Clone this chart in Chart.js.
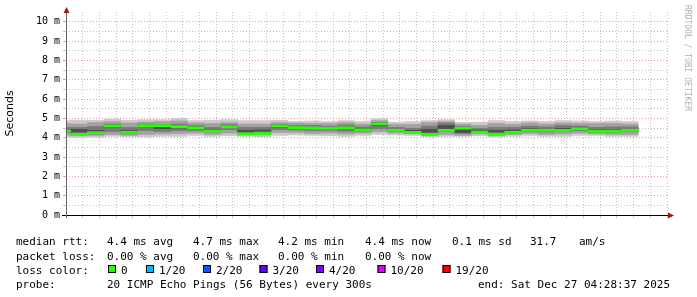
<!DOCTYPE html>
<html>
<head>
<meta charset="utf-8">
<script src="https://cdn.jsdelivr.net/npm/chart.js@4.4.1/dist/chart.umd.min.js"></script>
<style>
  html, body { margin: 0; padding: 0; background: #fff; }
  canvas { display: block; }
</style>
</head>
<body>
<canvas id="chart" width="697" height="297"></canvas>
<script>
// 5 minute steps (start of each step)
const times = ['01:25','01:30','01:35','01:40','01:45','01:50','01:55','02:00','02:05','02:10',
  '02:15','02:20','02:25','02:30','02:35','02:40','02:45','02:50','02:55','03:00',
  '03:05','03:10','03:15','03:20','03:25','03:30','03:35','03:40','03:45','03:50',
  '03:55','04:00','04:05','04:10','04:15'];

// median rtt, ms
const medianMs = [4.35,4.17,4.26,4.60,4.28,4.62,4.62,4.57,4.51,4.35,
  4.56,4.20,4.22,4.60,4.52,4.50,4.48,4.51,4.40,4.71,
  4.38,4.27,4.18,4.38,4.49,4.29,4.19,4.28,4.39,4.38,
  4.38,4.46,4.33,4.33,4.38];

// smoke: spread of the 20 pings, ms
const pingMin = [4.02,4.00,4.00,4.05,4.04,4.02,4.05,4.05,4.10,4.05,
  4.08,4.05,4.03,4.10,4.12,4.10,4.08,4.05,4.10,4.15,
  4.12,4.10,4.02,4.05,4.05,4.08,4.02,4.05,4.10,4.05,
  4.05,4.10,4.10,4.05,4.05];
const pingP10 = [4.12,4.08,4.10,4.15,4.10,4.15,4.18,4.20,4.22,4.15,
  4.22,4.12,4.12,4.25,4.25,4.20,4.22,4.18,4.22,4.30,
  4.22,4.18,4.10,4.15,4.10,4.18,4.10,4.15,4.20,4.15,
  4.18,4.22,4.18,4.15,4.15];
const pingP25 = [4.25,4.20,4.18,4.30,4.20,4.35,4.30,4.35,4.35,4.28,
  4.40,4.20,4.25,4.40,4.38,4.35,4.35,4.32,4.32,4.45,
  4.30,4.25,4.18,4.30,4.20,4.25,4.18,4.22,4.30,4.28,
  4.32,4.35,4.28,4.25,4.30];
const pingP40 = [4.30,4.28,4.25,4.50,4.30,4.55,4.45,4.48,4.45,4.35,
  4.50,4.28,4.32,4.50,4.45,4.45,4.42,4.44,4.38,4.60,
  4.36,4.30,4.25,4.40,4.25,4.30,4.25,4.30,4.38,4.35,
  4.38,4.42,4.33,4.30,4.36];
const pingP60 = [4.45,4.45,4.40,4.65,4.40,4.65,4.62,4.60,4.55,4.45,
  4.60,4.40,4.42,4.62,4.55,4.55,4.52,4.56,4.48,4.72,
  4.45,4.40,4.45,4.65,4.45,4.40,4.40,4.42,4.50,4.45,
  4.50,4.52,4.42,4.42,4.45];
const pingP75 = [4.55,4.55,4.60,4.72,4.55,4.72,4.70,4.72,4.65,4.55,
  4.70,4.55,4.55,4.70,4.65,4.65,4.60,4.68,4.58,4.80,
  4.55,4.50,4.62,4.78,4.60,4.50,4.55,4.55,4.62,4.58,
  4.65,4.62,4.55,4.58,4.58];
const pingP90 = [4.75,4.72,4.80,4.85,4.78,4.82,4.85,4.88,4.78,4.75,
  4.80,4.72,4.72,4.80,4.78,4.75,4.75,4.80,4.72,4.90,
  4.70,4.70,4.80,4.85,4.72,4.65,4.75,4.70,4.78,4.72,
  4.78,4.75,4.75,4.75,4.72];
const pingMax = [4.90,4.93,4.92,4.98,4.92,4.95,4.95,5.02,4.90,4.92,
  4.95,4.90,4.90,4.92,4.85,4.88,4.85,4.90,4.85,5.00,
  4.82,4.85,4.90,4.95,4.80,4.82,4.90,4.85,4.88,4.85,
  4.90,4.88,4.85,4.88,4.85];

const axisStart = '01:28:37';
const axisEnd = '04:28:37';

const rttStats = ['4.4 ms avg', '4.7 ms max', '4.2 ms min', '4.4 ms now', '0.1 ms sd', '31.7', 'am/s'];
const lossStats = ['0.00 % avg', '0.00 % max', '0.00 % min', '0.00 % now'];
const lossLabels = ['0', '1/20', '2/20', '3/20', '4/20', '10/20', '19/20'];
const lossColors = ['#26ff00', '#00b8ff', '#0059ff', '#5e00ff', '#7e00ff', '#dd00ff', '#ff0000'];
const probeText = '20 ICMP Echo Pings (56 Bytes) every 300s';
const endText = 'end: Sat Dec 27 04:28:37 2025';

const MONO = "'DejaVu Sans Mono', monospace";

function toMin(s) {
  const [h, m, sec = 0] = s.split(':').map(Number);
  return h * 60 + m + sec / 60;
}
function fmt(v) {
  const h = Math.floor(v / 60), m = Math.round(v % 60);
  return String(h).padStart(2, '0') + ':' + String(m).padStart(2, '0');
}

const centers = times.map(t => toMin(t) + 2.5);

function layer(lo, hi, color, order) {
  return {
    data: centers.map((x, i) => ({ x: x, y: [lo[i], hi[i]] })),
    backgroundColor: color,
    borderWidth: 0,
    grouped: false,
    categoryPercentage: 1,
    barPercentage: 1.03,
    order: order
  };
}

const MAJOR = 'rgba(225,120,120,0.75)';
const MINOR = 'rgba(170,170,170,0.7)';

const decor = {
  id: 'decor',
  afterDraw(chart) {
    const ctx = chart.ctx;
    const a = chart.chartArea;
    ctx.save();

    // axes
    ctx.lineWidth = 1;
    ctx.strokeStyle = '#000';
    ctx.beginPath();
    ctx.moveTo(a.left - 4, a.bottom + 0.5);
    ctx.lineTo(a.right + 2, a.bottom + 0.5);
    ctx.stroke();
    ctx.strokeStyle = '#666';
    ctx.beginPath();
    ctx.moveTo(a.left + 0.5, a.bottom + 3);
    ctx.lineTo(a.left + 0.5, a.top + 1);
    ctx.stroke();

    // arrows
    ctx.fillStyle = '#a01818';
    ctx.beginPath();
    ctx.moveTo(a.left + 0.5, a.top - 5);
    ctx.lineTo(a.left - 2.5, a.top + 1);
    ctx.lineTo(a.left + 3.5, a.top + 1);
    ctx.closePath();
    ctx.fill();
    ctx.beginPath();
    ctx.moveTo(a.right + 7, a.bottom + 0.5);
    ctx.lineTo(a.right + 1, a.bottom - 2.5);
    ctx.lineTo(a.right + 1, a.bottom + 3.5);
    ctx.closePath();
    ctx.fill();

    // watermark
    ctx.save();
    ctx.translate(687.5, 5);
    ctx.rotate(Math.PI / 2);
    ctx.font = '8px ' + MONO;
    ctx.fillStyle = '#b0b0b0';
    ctx.textBaseline = 'middle';
    ctx.textAlign = 'left';
    ctx.fillText('RRDTOOL / TOBI OETIKER', 0, 0);
    ctx.restore();

    // legend lines
    ctx.font = '11px ' + MONO;
    ctx.fillStyle = '#000';
    ctx.textBaseline = 'alphabetic';
    ctx.textAlign = 'left';

    const rttX = [107, 193, 278, 365, 452, 530, 579];
    ctx.fillText('median rtt:', 16, 245);
    rttStats.forEach((t, i) => ctx.fillText(t, rttX[i], 245));

    const lossX = [107, 193, 278, 365];
    ctx.fillText('packet loss:', 16, 259.5);
    lossStats.forEach((t, i) => ctx.fillText(t, lossX[i], 259.5));

    ctx.fillText('loss color:', 16, 273.5);
    const boxX = [108, 146, 203, 259.5, 316, 377.5, 442.5];
    lossLabels.forEach((t, i) => {
      ctx.fillStyle = lossColors[i];
      ctx.fillRect(boxX[i], 265, 8, 8);
      ctx.strokeStyle = '#000';
      ctx.strokeRect(boxX[i] + 0.5, 265.5, 7, 7);
      ctx.fillStyle = '#000';
      ctx.fillText(t, boxX[i] + 13, 273.5);
    });

    ctx.fillText('probe:', 16, 287.5);
    ctx.fillText(probeText, 107, 287.5);
    ctx.fillText(endText, 478, 287.5);

    ctx.restore();
  }
};

new Chart(document.getElementById('chart').getContext('2d'), {
  type: 'bar',
  data: {
    datasets: [
      layer(medianMs.map(v => v - 0.07), medianMs.map(v => v + 0.07), '#26ff00', 1),
      layer(pingP40, pingP60, '#4e4e4e', 2),
      layer(pingP25, pingP75, '#7a7a7a', 3),
      layer(pingP10, pingP90, '#a2a2a2', 4),
      layer(pingMin, pingMax, '#cacaca', 5)
    ]
  },
  options: {
    responsive: false,
    animation: false,
    layout: { padding: { left: 0, right: 30, top: 12, bottom: 0 } },
    plugins: { legend: { display: false }, tooltip: { enabled: false } },
    scales: {
      x: {
        type: 'linear',
        min: toMin(axisStart),
        max: toMin(axisEnd),
        offset: false,
        afterFit: s => { s.height = 82; },
        grid: {
          offset: false,
          color: c => (c.tick.value % 20 === 0 ? MAJOR : MINOR),
          tickColor: c => (c.tick.value % 20 === 0 ? MAJOR : MINOR),
          tickLength: 3
        },
        border: { display: false, dash: [1, 2] },
        ticks: {
          stepSize: 5,
          includeBounds: false,
          autoSkip: false,
          maxRotation: 0,
          padding: 1,
          color: '#000',
          font: { family: MONO, size: 10 },
          callback: v => (v % 20 === 0 ? fmt(v) : '')
        }
      },
      y: {
        min: 0,
        max: 10.5,
        afterFit: s => { s.width = 66; },
        grid: {
          color: c => (c.tick.value > 10.01 ? 'rgba(0,0,0,0)' : (Number.isInteger(c.tick.value) ? MAJOR : MINOR)),
          tickColor: c => (c.tick.value > 10.01 ? 'rgba(0,0,0,0)' : (Number.isInteger(c.tick.value) ? MAJOR : MINOR)),
          tickLength: 3
        },
        border: { display: false, dash: [1, 2] },
        title: {
          display: true,
          text: 'Seconds',
          color: '#000',
          font: { family: "'DejaVu Sans', sans-serif", size: 11 },
          padding: { top: 4, bottom: 0 }
        },
        ticks: {
          stepSize: 0.5,
          autoSkip: false,
          padding: 3,
          color: '#000',
          font: { family: MONO, size: 10 },
          callback: v => (Number.isInteger(v) && v <= 10 ? v + ' m' : '')
        }
      }
    }
  },
  plugins: [decor]
});
</script>
</body>
</html>
